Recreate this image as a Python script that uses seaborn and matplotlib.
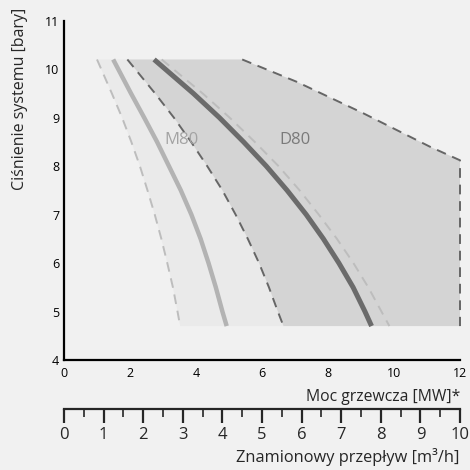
import numpy as np
import pandas as pd
import matplotlib
matplotlib.use('Agg')
import matplotlib.pyplot as plt
import matplotlib.transforms as mtransforms
from matplotlib.ticker import MultipleLocator
import seaborn as sns

# Pressure levels used for all curves [bar]
p_levels = [10.2, 9.5, 9.0, 8.5, 8.0, 7.5, 7.0, 6.5, 6.0, 5.5, 5.0, 4.7]

# M80 range [MW]
m80_min = [1.0, 1.45, 1.76, 2.04, 2.30, 2.53, 2.75, 2.95, 3.13, 3.30, 3.44, 3.52]
m80_nom = [1.49, 2.03, 2.43, 2.82, 3.18, 3.54, 3.86, 4.14, 4.38, 4.60, 4.80, 4.93]

# D80 range [MW]
d80_left = [1.92, 2.76, 3.33, 3.85, 4.34, 4.80, 5.20, 5.57, 5.91, 6.21, 6.48, 6.65]
d80_nom = [2.73, 3.92, 4.71, 5.44, 6.13, 6.76, 7.34, 7.86, 8.33, 8.76, 9.12, 9.32]
d80_min = [2.96, 4.20, 5.02, 5.78, 6.50, 7.14, 7.72, 8.27, 8.77, 9.22, 9.62, 9.86]

# D80 upper / right limit
d80_right_x = [5.4, 7.05, 9.07, 11.09, 12.0, 12.0]
d80_right_y = [10.2, 9.74, 9.09, 8.40, 8.12, 4.7]

mw_ticks = [0, 2, 4, 6, 8, 10, 12]
bar_ticks = [4, 5, 6, 7, 8, 9, 10, 11]
flow_ticks = list(range(0, 11))

sns.set_style('white')
plt.rcParams['font.family'] = ['Open Sans', 'DejaVu Sans']

bg = '#f1f1f1'
fig = plt.figure(figsize=(4.7, 4.7), dpi=100, facecolor=bg)
ax = fig.add_axes([64/470, 110/470, 396/470, 339.3/470])
ax.set_facecolor('none')

# fills
m_poly_x = m80_min + d80_left[::-1]
m_poly_y = p_levels + p_levels[::-1]
ax.fill(m_poly_x, m_poly_y, color='#eaeaea', lw=0)
d_poly_x = d80_left + d80_right_x[::-1]
d_poly_y = p_levels + d80_right_y[::-1]
ax.fill(d_poly_x, d_poly_y, color='#d4d4d4', lw=0)

def curve(x, y, **kw):
    df = pd.DataFrame({'mw': x, 'bar': y})
    sns.lineplot(data=df, x='mw', y='bar', sort=False, estimator=None, ax=ax,
                 clip_on=False, **kw)

curve(m80_min, p_levels, color='#bdbdbd', lw=1.4, dashes=(5, 3.5))
curve(m80_nom, p_levels, color='#b3b3b3', lw=3.2, solid_capstyle='butt',
      solid_joinstyle='round')
curve(d80_left, p_levels, color='#666666', lw=1.4, dashes=(5, 3.5))
curve(d80_min, p_levels, color='#bdbdbd', lw=1.4, dashes=(5, 3.5))
curve(d80_nom, p_levels, color='#6b6b6b', lw=3.6, solid_capstyle='butt',
      solid_joinstyle='round')
curve(d80_right_x, d80_right_y, color='#666666', lw=1.4, dashes=(5, 3.5))

ax.text(3.57, 8.54, 'M80', color='#a3a3a3', fontsize=12, ha='center', va='center')
ax.text(7.0, 8.54, 'D80', color='#7a7a7a', fontsize=12, ha='center', va='center')

ax.set_xlim(0, 12)
ax.set_ylim(4, 11)
ax.set_xticks(mw_ticks)
ax.set_yticks(bar_ticks)
ax.set_xlabel('')
ax.set_ylabel('')
for s in ['top', 'right']:
    ax.spines[s].set_visible(False)
for s in ['left', 'bottom']:
    ax.spines[s].set_color('black')
    ax.spines[s].set_linewidth(1.6)
ax.tick_params(axis='x', direction='in', length=7, width=1.6, pad=5,
               labelsize=9, colors='black')
ax.tick_params(axis='y', direction='in', length=7, width=1.6, pad=3.5,
               labelsize=9, colors='black')

trans = mtransforms.blended_transform_factory(ax.transData, ax.transAxes)
ax.text(12, -0.12, 'Moc grzewcza [MW]*', transform=trans, ha='right',
        va='baseline', fontsize=11.3)

# flow scale under the power axis
sec = ax.secondary_xaxis(-0.1444, functions=(lambda x: x * 10 / 12,
                                             lambda f: f * 12 / 10))
sec.set_xticks(flow_ticks)
sec.xaxis.set_minor_locator(MultipleLocator(0.5))
sec.spines['bottom'].set_linewidth(1.6)
sec.tick_params(axis='x', which='major', direction='out', length=10, width=1.6,
                pad=3, labelsize=12)
sec.tick_params(axis='x', which='minor', direction='out', length=5.5, width=1.2)
ax.text(12, -0.2997, 'Znamionowy przepływ [m³/h]', transform=trans,
        ha='right', va='baseline', fontsize=11.8)

fig.text(20.5/470, 1 - 99/470, 'Ciśnienie systemu [bary]', rotation=90,
         ha='center', va='center', fontsize=11.5)

fig.savefig('out.png', dpi=100, facecolor=bg)
